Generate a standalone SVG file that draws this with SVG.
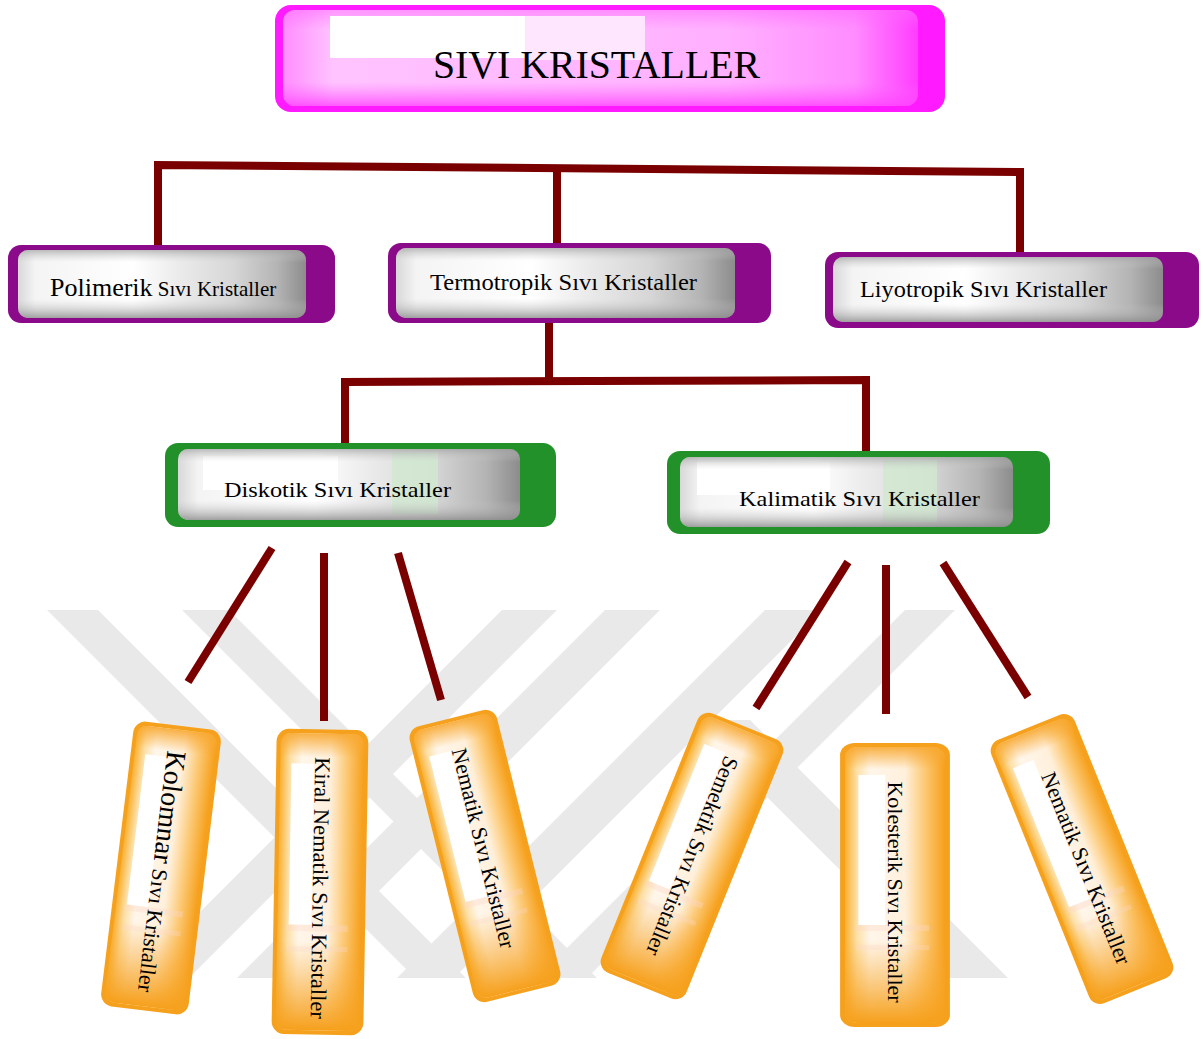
<svg xmlns="http://www.w3.org/2000/svg" width="1203" height="1039" viewBox="0 0 1203 1039">
<defs>
<style>
.wm{fill:#e9e9e9}
.con{stroke:#7a0000;stroke-width:8;fill:none;stroke-linecap:butt}
.lbl{font-family:"Liberation Serif","Times New Roman",serif;fill:#000}
.purple{fill:#8a0a8a}
.green{fill:#23912a}
</style>
<linearGradient id="grayH" x1="0" y1="0" x2="1" y2="0">
<stop offset="0" stop-color="#d8d8d8"/>
<stop offset="0.06" stop-color="#f4f4f4"/>
<stop offset="0.4" stop-color="#ffffff"/>
<stop offset="0.55" stop-color="#ececec"/>
<stop offset="0.75" stop-color="#d6d6d6"/>
<stop offset="0.9" stop-color="#b4b4b4"/>
<stop offset="1" stop-color="#8c8c8c"/>
</linearGradient>
<linearGradient id="grayV" x1="0" y1="0" x2="0" y2="1">
<stop offset="0" stop-color="#a0a0a0" stop-opacity="0.7"/>
<stop offset="0.18" stop-color="#d0d0d0" stop-opacity="0"/>
<stop offset="0.72" stop-color="#d0d0d0" stop-opacity="0"/>
<stop offset="1" stop-color="#8a8a8a" stop-opacity="0.8"/>
</linearGradient>
<linearGradient id="pinkH" x1="0" y1="0" x2="1" y2="0">
<stop offset="0" stop-color="#ff8cff"/>
<stop offset="0.08" stop-color="#ffc4ff"/>
<stop offset="0.7" stop-color="#ffb0ff"/>
<stop offset="0.9" stop-color="#ff8cff"/>
<stop offset="1" stop-color="#ff3cff"/>
</linearGradient>
<linearGradient id="pinkV" x1="0" y1="0" x2="0" y2="1">
<stop offset="0" stop-color="#ff66ff" stop-opacity="0.5"/>
<stop offset="0.2" stop-color="#ff66ff" stop-opacity="0"/>
<stop offset="0.75" stop-color="#ff66ff" stop-opacity="0"/>
<stop offset="1" stop-color="#ff40ff" stop-opacity="0.8"/>
</linearGradient>
<linearGradient id="orH" x1="0" y1="0" x2="1" y2="0">
<stop offset="0" stop-color="#f9b030"/>
<stop offset="0.12" stop-color="#fde0a8"/>
<stop offset="0.25" stop-color="#fff6ea"/>
<stop offset="0.6" stop-color="#fff0dc"/>
<stop offset="0.8" stop-color="#fcc874"/>
<stop offset="1" stop-color="#f6a01c"/>
</linearGradient>
<linearGradient id="orV" x1="0" y1="0" x2="0" y2="1">
<stop offset="0" stop-color="#f8a830" stop-opacity="0.9"/>
<stop offset="0.08" stop-color="#f8a830" stop-opacity="0"/>
<stop offset="0.7" stop-color="#f8a830" stop-opacity="0"/>
<stop offset="1" stop-color="#f6a01c" stop-opacity="1"/>
</linearGradient>
<g id="orange">
<rect x="-45" y="-142" width="90" height="284" rx="12" fill="#f5a11e"/>
<rect x="-41" y="-138" width="82" height="276" rx="10" fill="url(#orH)"/>
<rect x="-41" y="-138" width="82" height="276" rx="10" fill="url(#orV)"/>
<rect x="-30" y="-110" width="22" height="150" fill="#ffffff"/>
<rect x="-32" y="40" width="60" height="6" fill="#fbd6c8" opacity="0.35"/>
<rect x="-32" y="60" width="60" height="5" fill="#fbd6c8" opacity="0.3"/>
</g>
</defs>

<rect width="1203" height="1039" fill="#ffffff"/>

<g id="watermark">
<polygon class="wm" points="47,610 98,610 466,978 415,978"/>
<polygon class="wm" points="182,610 229,610 597,978 550,978"/>
<polygon class="wm" points="502,610 557,610 189,978 134,978"/>
<polygon class="wm" points="605,610 660,610 292,978 237,978"/>
<polygon class="wm" points="765,610 822,610 454,978 397,978"/>
<polygon class="wm" points="905,610 955,610 587,978 537,978"/>
<polygon class="wm" points="690,720 750,720 1008,978 948,978"/>
</g>

<g id="connectors">
<polyline class="con" points="158,245 158,165 1020,172 1020,252"/>
<line class="con" x1="557" y1="168" x2="557" y2="243"/>
<line class="con" x1="549" y1="323" x2="549" y2="382"/>
<polyline class="con" points="345,443 345,382 866,380 866,451"/>
<line class="con" x1="272" y1="548" x2="188" y2="682"/>
<line class="con" x1="324" y1="553" x2="324" y2="721"/>
<line class="con" x1="398" y1="553" x2="441" y2="700"/>
<line class="con" x1="848" y1="562" x2="756" y2="708"/>
<line class="con" x1="886" y1="565" x2="886" y2="714"/>
<line class="con" x1="943" y1="563" x2="1028" y2="697"/>
</g>

<g id="n-title">
<rect x="275" y="5" width="670" height="107" rx="16" fill="#ff1aff"/>
<rect x="283" y="10" width="635" height="96" rx="12" fill="url(#pinkH)"/>
<rect x="283" y="10" width="635" height="96" rx="12" fill="url(#pinkV)"/>
<rect x="330" y="16" width="195" height="42" fill="#ffffff"/>
<rect x="525" y="16" width="120" height="44" fill="#ffe6ff"/>
<text class="lbl" x="433" y="78" font-size="40" textLength="327" lengthAdjust="spacingAndGlyphs">SIVI KRISTALLER</text>
</g>

<g id="n-polimerik">
<rect class="purple" x="8" y="245" width="327" height="78" rx="13"/>
<rect x="18" y="250" width="288" height="68" rx="10" fill="url(#grayH)"/>
<rect x="18" y="250" width="288" height="68" rx="10" fill="url(#grayV)"/>
<text class="lbl" x="50" y="296"><tspan font-size="26">Polimerik</tspan><tspan font-size="21"> Sıvı Kristaller</tspan></text>
</g>

<g id="n-termotropik">
<rect class="purple" x="388" y="243" width="383" height="80" rx="13"/>
<rect x="396" y="248" width="339" height="70" rx="10" fill="url(#grayH)"/>
<rect x="396" y="248" width="339" height="70" rx="10" fill="url(#grayV)"/>
<text class="lbl" x="430" y="290" font-size="23" textLength="267" lengthAdjust="spacingAndGlyphs">Termotropik Sıvı Kristaller</text>
</g>

<g id="n-liyotropik">
<rect class="purple" x="825" y="252" width="374" height="76" rx="13"/>
<rect x="833" y="257" width="330" height="65" rx="10" fill="url(#grayH)"/>
<rect x="833" y="257" width="330" height="65" rx="10" fill="url(#grayV)"/>
<text class="lbl" x="860" y="297" font-size="23" textLength="247" lengthAdjust="spacingAndGlyphs">Liyotropik Sıvı Kristaller</text>
</g>

<g id="n-diskotik">
<rect class="green" x="165" y="443" width="391" height="84" rx="13"/>
<rect x="178" y="449" width="342" height="71" rx="10" fill="url(#grayH)"/>
<rect x="392" y="452" width="46" height="62" fill="#cfe8cf" opacity="0.8"/>
<rect x="203" y="456" width="135" height="34" fill="#ffffff"/>
<rect x="178" y="449" width="342" height="71" rx="10" fill="url(#grayV)"/>
<text class="lbl" x="224" y="497" font-size="22" textLength="227" lengthAdjust="spacingAndGlyphs">Diskotik Sıvı Kristaller</text>
</g>

<g id="n-kalimatik">
<rect class="green" x="667" y="451" width="383" height="83" rx="13"/>
<rect x="680" y="457" width="333" height="70" rx="10" fill="url(#grayH)"/>
<rect x="883" y="460" width="54" height="62" fill="#cfe8cf" opacity="0.8"/>
<rect x="697" y="462" width="133" height="33" fill="#ffffff"/>
<rect x="680" y="457" width="333" height="70" rx="10" fill="url(#grayV)"/>
<text class="lbl" x="739" y="506" font-size="22" textLength="241" lengthAdjust="spacingAndGlyphs">Kalimatik Sıvı Kristaller</text>
</g>

<g id="n-kolomnar" transform="translate(161,868) rotate(7)">
<use href="#orange" transform="scale(0.98,1.01)"/>
<text class="lbl" transform="rotate(90)" x="-118" y="8"><tspan font-size="28">Kolomnar</tspan><tspan font-size="22"> Sıvı Kristaller</tspan></text>
</g>

<g id="n-kiral" transform="translate(320,882) rotate(1)">
<use href="#orange" transform="scale(1.02,1.075)"/>
<text class="lbl" transform="rotate(90)" x="6" y="7" font-size="22" text-anchor="middle" textLength="262" lengthAdjust="spacingAndGlyphs">Kiral Nematik Sıvı Kristaller</text>
</g>

<g id="n-nematik1" transform="translate(485,856) rotate(-14)">
<use href="#orange"/>
<text class="lbl" transform="rotate(90)" x="-8" y="7" font-size="22" text-anchor="middle">Nematik Sıvı Kristaller</text>
</g>

<g id="n-semektik" transform="translate(692,856) rotate(22)">
<use href="#orange" transform="scale(1.02,0.985)"/>
<text class="lbl" transform="rotate(90)" x="0" y="7" font-size="22" text-anchor="middle">Semektik Sıvı Kristaller</text>
</g>

<g id="n-kolesterik" transform="translate(895,885)">
<use href="#orange" transform="scale(1.22,1.0)"/>
<text class="lbl" transform="rotate(90)" x="7" y="7" font-size="22" text-anchor="middle">Kolesterik Sıvı Kristaller</text>
</g>

<g id="n-nematik2" transform="translate(1082,859) rotate(-22)">
<use href="#orange"/>
<text class="lbl" transform="rotate(90)" x="10" y="7" font-size="22" text-anchor="middle">Nematik Sıvı Kristaller</text>
</g>
</svg>
